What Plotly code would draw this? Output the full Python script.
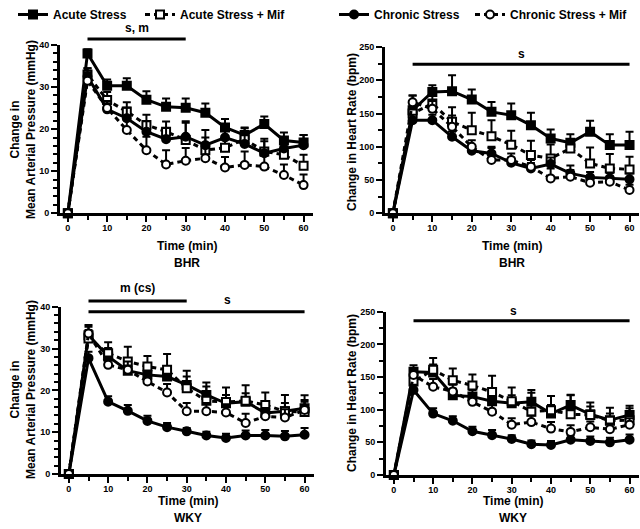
import plotly.graph_objects as go

# ---------------- data ----------------
time_min = [0, 5, 10, 15, 20, 25, 30, 35, 40, 45, 50, 55, 60]
series_names = ["Acute Stress", "Acute Stress + Mif", "Chronic Stress", "Chronic Stress + Mif"]

# BHR - Mean arterial pressure
bhr_map_acute = [0, 38, 30.3, 30.3, 27, 25.3, 25.1, 23.9, 20.4, 18.6, 21.2, 17.3, 16.8]
bhr_map_acute_err = [0, 1, 1.5, 1.8, 2, 2, 2.2, 2.2, 2, 1.8, 1.8, 1.9, 1.8]
bhr_map_acute_mif = [0, 33, 26.9, 24.2, 21, 19.4, 17.4, 15, 15.6, 17.6, 14.7, 13.9, 11.3]
bhr_map_acute_mif_err = [0, 1.5, 1.9, 2.2, 2.4, 2.4, 4.5, 3, 2.6, 2.6, 3, 2.8, 2.6]
bhr_map_chronic = [0, 32.5, 24.7, 22.6, 19.4, 17.6, 18.2, 16.2, 18, 16.5, 14.3, 15.4, 16.2]
bhr_map_chronic_err = [0, 2, 2, 2.5, 2.5, 2.7, 3.3, 3.6, 2.4, 2.3, 2.8, 2.4, 2.4]
bhr_map_chronic_mif = [0, 31.5, 25, 19.8, 15, 11.6, 12.5, 13.1, 10.9, 11.5, 11.1, 9.1, 6.7]
bhr_map_chronic_mif_err = [0, 2, 1.5, 2.5, 3.2, 3.4, 3, 2.5, 2.5, 3.2, 2.5, 2.5, 2.5]

# BHR - Heart rate
bhr_hr_acute = [0, 155, 182.5, 183.5, 171, 152.5, 147.5, 132.5, 112.5, 106, 122.5, 102.5, 102.5]
bhr_hr_acute_err = [0, 22, 10, 24, 15, 15, 17.5, 18.5, 13.5, 13, 16.5, 16.5, 20]
bhr_hr_acute_mif = [0, 150, 165, 137.5, 125, 116, 103, 87.5, 82.5, 97.5, 75, 67.5, 66]
bhr_hr_acute_mif_err = [0, 12, 14, 22, 26, 24, 21, 21.5, 21, 14, 24, 21.5, 19]
bhr_hr_chronic = [0, 140, 140, 115, 94, 90, 76, 67.5, 74, 60, 54, 52.5, 51]
bhr_hr_chronic_err = [0, 8, 8, 8, 8, 10, 8, 8, 10, 12, 8, 8, 9]
bhr_hr_chronic_mif = [0, 167, 157, 130, 100, 80, 80, 70, 52.5, 55, 46, 47.5, 35]
bhr_hr_chronic_mif_err = [0, 10, 12, 17, 10, 18, 10, 10, 15, 10, 8, 8, 8]

# WKY - Mean arterial pressure
wky_map_acute = [0, 33.2, 28.1, 24.7, 23.7, 23.3, 21.3, 18.9, 16.9, 17.3, 14.6, 15, 15.7]
wky_map_acute_err = [0, 2, 2, 2, 2, 2, 2, 2, 2, 2, 2, 2, 2]
wky_map_acute_mif = [0, 32.4, 28.9, 26.9, 25.7, 24.9, 20.5, 17.5, 17.2, 17.5, 16.5, 15, 14.8]
wky_map_acute_mif_err = [0, 2, 2.6, 3.5, 2.5, 3.8, 4.2, 4.4, 3.5, 3.7, 3, 3.9, 4]
wky_map_chronic = [0, 27.7, 17.3, 15.1, 12.7, 11.2, 10.2, 9.2, 8.6, 9.2, 9.2, 9.0, 9.4]
wky_map_chronic_err = [0, 1.5, 1.3, 1.4, 1.2, 1.0, 0.8, 0.9, 1.0, 1.2, 1.3, 1.3, 1.6]
wky_map_chronic_mif = [0, 33.6, 26.1, 24.9, 22.1, 19.5, 15, 15, 14.7, 12.2, 13.8, 13.5, 15.3]
wky_map_chronic_mif_err = [0, 2, 2, 2, 2, 2, 2, 2, 2, 2.2, 2, 2, 2]

# WKY - Heart rate
wky_hr_acute = [0, 158, 157, 122, 120, 113, 110, 112, 94, 107, 93, 84, 92]
wky_hr_acute_err = [0, 10, 12, 10, 10, 10, 12, 14, 13, 15, 12, 10, 10]
wky_hr_acute_mif = [0, 143, 161, 145, 137, 127, 113, 97, 99, 93, 92, 83, 84]
wky_hr_acute_mif_err = [0, 15, 18, 18, 17, 25, 21, 33, 22, 30, 19, 20, 22]
wky_hr_chronic = [0, 130, 94, 83, 67, 61, 55, 47, 46, 54, 52, 50, 54]
wky_hr_chronic_err = [0, 8, 8, 7, 7, 8, 6, 6, 6, 7, 7, 7, 8]
wky_hr_chronic_mif = [0, 153, 135, 128, 112, 97, 77, 81, 71, 66, 73, 70, 77]
wky_hr_chronic_mif_err = [0, 10, 12, 10, 10, 10, 10, 10, 10, 10, 9, 9, 10]

panels = [
    ("x", "y", [bhr_map_acute, bhr_map_acute_mif, bhr_map_chronic, bhr_map_chronic_mif],
     [bhr_map_acute_err, bhr_map_acute_mif_err, bhr_map_chronic_err, bhr_map_chronic_mif_err]),
    ("x2", "y2", [bhr_hr_acute, bhr_hr_acute_mif, bhr_hr_chronic, bhr_hr_chronic_mif],
     [bhr_hr_acute_err, bhr_hr_acute_mif_err, bhr_hr_chronic_err, bhr_hr_chronic_mif_err]),
    ("x3", "y3", [wky_map_acute, wky_map_acute_mif, wky_map_chronic, wky_map_chronic_mif],
     [wky_map_acute_err, wky_map_acute_mif_err, wky_map_chronic_err, wky_map_chronic_mif_err]),
    ("x4", "y4", [wky_hr_acute, wky_hr_acute_mif, wky_hr_chronic, wky_hr_chronic_mif],
     [wky_hr_acute_err, wky_hr_acute_mif_err, wky_hr_chronic_err, wky_hr_chronic_mif_err]),
]

FONT = "Liberation Sans, Arial, sans-serif"
styles = [
    dict(dash="solid", symbol="square", fill="black"),
    dict(dash="5px,4px", symbol="square", fill="white"),
    dict(dash="solid", symbol="circle", fill="black"),
    dict(dash="5px,4px", symbol="circle", fill="white"),
]
legend_ids = ["legend", "legend2", "legend3", "legend4"]

fig = go.Figure()
for pi, (xa, ya, vals, errs) in enumerate(panels):
    for si in range(4):
        st = styles[si]
        fig.add_trace(go.Scatter(
            x=time_min, y=vals[si], xaxis=xa, yaxis=ya,
            mode="lines+markers", name=series_names[si],
            line=dict(color="black", width=3, dash=st["dash"]),
            marker=dict(symbol=st["symbol"], size=8, color=st["fill"],
                        line=dict(color="black", width=2)),
            error_y=dict(type="data", symmetric=False, array=errs[si],
                         arrayminus=[0] * len(errs[si]), color="black",
                         thickness=2, width=4),
            cliponaxis=False,
            showlegend=(pi == 0), legend=legend_ids[si],
        ))

W, H = 640, 529
def px_x(p):
    return p / W
def px_y(p):
    return 1 - p / H

tickfont = dict(family=FONT, size=9, color="black", weight="bold")
def xaxis(dom, anchor):
    return dict(domain=[px_x(dom[0]), px_x(dom[1])], anchor=anchor, range=[-2, 62.4],
                tickmode="array", tickvals=[0, 10, 20, 30, 40, 50, 60],
                ticks="outside", ticklen=6, tickwidth=2, tickcolor="black",
                minor=dict(dtick=5, tick0=0, ticks="outside", ticklen=4, tickwidth=2, tickcolor="black"),
                showline=True, linewidth=3, linecolor="black", showgrid=False, zeroline=False,
                tickfont=tickfont, ticklabelstandoff=-2)
def yaxis(dom, anchor, top, major, minor):
    return dict(domain=[px_y(dom[1]), px_y(dom[0])], anchor=anchor, range=[0, top],
                dtick=major, tick0=0,
                ticks="outside", ticklen=6, tickwidth=2, tickcolor="black",
                minor=dict(dtick=minor, tick0=0, ticks="outside", ticklen=4, tickwidth=2, tickcolor="black"),
                showline=True, linewidth=3, linecolor="black", showgrid=False, zeroline=False,
                tickfont=tickfont)

legfont = dict(family=FONT, size=12, color="black", weight="bold")
leg_x_px = [13, 140, 334, 470]
layout = dict(
    width=W, height=H, margin=dict(l=0, r=0, t=0, b=0, autoexpand=False),
    plot_bgcolor="white", paper_bgcolor="white",
    xaxis=xaxis((60, 313), "y"), yaxis=yaxis((45, 213.3), "x", 40, 10, 2),
    xaxis2=xaxis((385, 639), "y2"), yaxis2=yaxis((47, 213.3), "x2", 250, 50, 25),
    xaxis3=xaxis((61, 314), "y3"), yaxis3=yaxis((306.7, 474), "x3", 40, 10, 2),
    xaxis4=xaxis((386, 639), "y4"), yaxis4=yaxis((311.7, 475), "x4", 250, 50, 25),
)
for i, lid in enumerate(legend_ids):
    layout[lid] = dict(x=px_x(leg_x_px[i]), y=1.0, xanchor="left", yanchor="top",
                       orientation="h", font=legfont, bgcolor="rgba(0,0,0,0)",
                       itemwidth=30)
fig.update_layout(**layout)

annfont = dict(family=FONT, size=12, color="black", weight="bold")
anns = []
x_titles = [(186.5, 246, "Time (min)"), (186.5, 263, "BHR"), (512, 246, "Time (min)"), (512, 263, "BHR"),
            (187.5, 501, "Time (min)"), (187.5, 518, "WKY"), (513, 501, "Time (min)"), (513, 518, "WKY")]
for x, y, t in x_titles:
    anns.append(dict(x=px_x(x), y=px_y(y), xref="paper", yref="paper", text=t, showarrow=False,
                     xanchor="center", yanchor="middle", font=annfont))
y_titles = [(23, 130, "Change in<br>Mean Arterial Pressure (mmHg)"),
            (352, 132, "Change in Heart Rate (bpm)"),
            (23, 390, "Change in<br>Mean Arterial Pressure (mmHg)"),
            (352, 393, "Change in Heart Rate (bpm)")]
for x, y, t in y_titles:
    anns.append(dict(x=px_x(x), y=px_y(y), xref="paper", yref="paper", text=t, showarrow=False,
                     textangle=-90, xanchor="center", yanchor="middle", font=annfont))

# significance bars: (xref, x0, x1, line_px_y, label, label_x, label_px_y)
sig = [("x", 5, 30, 39, "s, m", 17.5, 28),
       ("x2", 5, 60, 64.3, "s", 32.5, 54),
       ("x3", 5, 30, 301, "m (cs)", 17.5, 288),
       ("x3", 5, 60, 311.7, "s", 40.5, 300),
       ("x4", 5, 60, 320.7, "s", 30.5, 310.7)]
shapes = []
for xr, x0, x1, ly, lab, lx, lby in sig:
    shapes.append(dict(type="line", xref=xr, yref="paper", x0=x0, x1=x1, y0=px_y(ly), y1=px_y(ly),
                       line=dict(color="black", width=3)))
    anns.append(dict(x=lx, y=px_y(lby), xref=xr, yref="paper", text=lab, showarrow=False,
                     xanchor="center", yanchor="middle", font=annfont))
fig.update_layout(annotations=anns, shapes=shapes)

fig.write_html("out.html", config={"displayModeBar": False},
               post_script="document.body.style.margin='0';document.body.style.overflow='hidden';")
